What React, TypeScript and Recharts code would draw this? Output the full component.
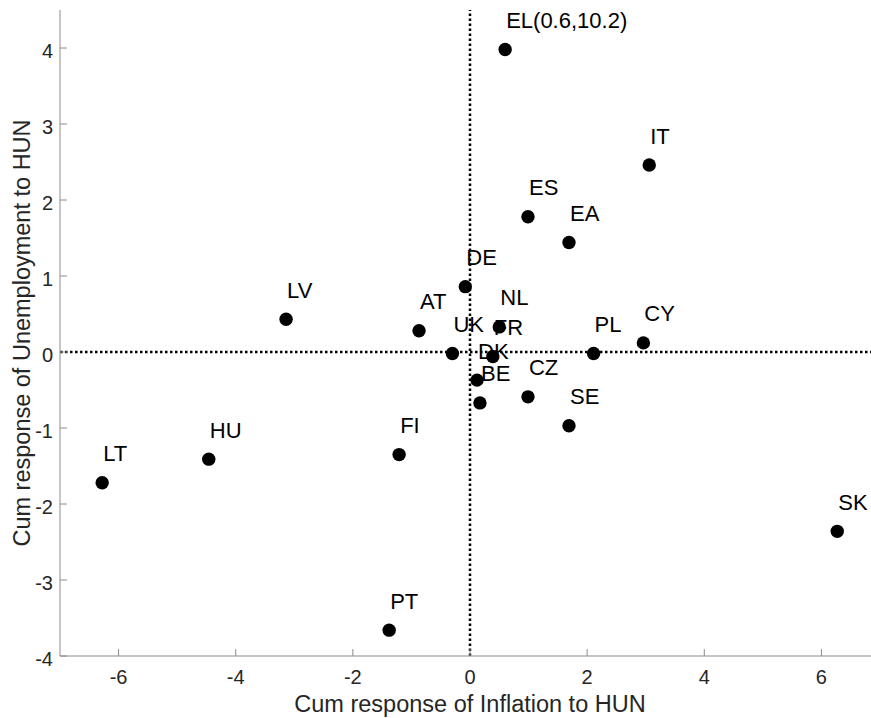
import React from 'react';
import { ScatterChart, Scatter, XAxis, YAxis, ReferenceLine } from 'recharts';

// country codes and their cumulative responses (inflation, unemployment)
const countries = ['EL(0.6,10.2)', 'IT', 'ES', 'EA', 'DE', 'LV', 'AT', 'NL', 'UK', 'FR', 'PL', 'CY', 'DK', 'BE', 'CZ', 'SE', 'FI', 'HU', 'LT', 'SK', 'PT'];
const inflation = [0.6, 3.06, 0.99, 1.69, -0.08, -3.14, -0.87, 0.5, -0.3, 0.39, 2.11, 2.96, 0.12, 0.17, 0.99, 1.69, -1.21, -4.46, -6.28, 6.27, -1.38];
const unemployment = [3.98, 2.46, 1.78, 1.44, 0.86, 0.43, 0.28, 0.33, -0.02, -0.06, -0.02, 0.12, -0.37, -0.67, -0.59, -0.97, -1.35, -1.41, -1.72, -2.36, -3.66];

const xTicks = [-6, -4, -2, 0, 2, 4, 6];
const yTicks = [-4, -3, -2, -1, 0, 1, 2, 3, 4];

const points = countries.map((name, i) => ({ name, x: inflation[i], y: unemployment[i] }));

const FONT = '"Liberation Sans", Arial, sans-serif';
const AXIS_COLOR = '#8c8c8c';
const TEXT_COLOR = '#262626';

// ticks point into the plot, like the matlab default
const XTick = ({ x, y, payload }: any) => (
  <g>
    <line x1={x} y1={y} x2={x} y2={y - 7} stroke={AXIS_COLOR} strokeWidth={1} />
    <text x={x} y={y + 28} textAnchor="middle" fontSize={20} fontFamily={FONT} fill={TEXT_COLOR}>
      {payload.value}
    </text>
  </g>
);

const YTick = ({ x, y, payload }: any) => (
  <g>
    <line x1={x} y1={y} x2={x + 7} y2={y} stroke={AXIS_COLOR} strokeWidth={1} />
    <text x={x - 7} y={y + 10} textAnchor="end" fontSize={20} fontFamily={FONT} fill={TEXT_COLOR}>
      {payload.value}
    </text>
  </g>
);

const Dot = ({ cx, cy, payload }: any) => (
  <g>
    <circle cx={cx} cy={cy} r={6.7} fill="#000" />
    <text x={cx + 1} y={cy - 21.5} fontSize={22} fontFamily={FONT} fill="#000">
      {payload.name}
    </text>
  </g>
);

// the label's viewBox is the axis strip on the left
const YLabel = ({ viewBox }: any) => {
  const x = viewBox.x + viewBox.width - 30.5;
  const y = viewBox.y + viewBox.height / 2;
  return (
    <text x={x} y={y} transform={`rotate(-90, ${x}, ${y})`} textAnchor="middle" fontSize={23.5} fontFamily={FONT} fill={TEXT_COLOR}>
      Cum response of Unemployment to HUN
    </text>
  );
};

const XLabel = ({ viewBox }: any) => (
  <text x={viewBox.x + viewBox.width / 2} y={viewBox.y + 55.5} textAnchor="middle" fontSize={23.5} fontFamily={FONT} fill={TEXT_COLOR}>
    Cum response of Inflation to HUN
  </text>
);

export default function App() {
  return (
    <div style={{ position: 'fixed', left: 0, top: 0, width: 871, height: 718, overflow: 'hidden', background: '#fff' }}>
      <ScatterChart width={890} height={718} margin={{ top: 10, right: 10, left: 0, bottom: 0 }}>
        <XAxis
          type="number"
          dataKey="x"
          domain={[-7, 7]}
          ticks={xTicks}
          allowDataOverflow
          height={62}
          stroke={AXIS_COLOR}
          tickSize={0}
          tickMargin={0}
          tickLine={false}
          tick={<XTick />}
          label={<XLabel />}
        />
        <YAxis
          type="number"
          dataKey="y"
          domain={[-4, 4.5]}
          ticks={yTicks}
          allowDataOverflow
          width={60}
          stroke={AXIS_COLOR}
          tickSize={0}
          tickMargin={0}
          tickLine={false}
          tick={<YTick />}
          label={<YLabel />}
        />
        <ReferenceLine x={0} stroke="#000" strokeWidth={2.5} strokeDasharray="2.5 2.5" />
        <ReferenceLine y={0} stroke="#000" strokeWidth={2.5} strokeDasharray="2.5 2.5" />
        <Scatter data={points} shape={<Dot />} isAnimationActive={false} />
      </ScatterChart>
    </div>
  );
}
